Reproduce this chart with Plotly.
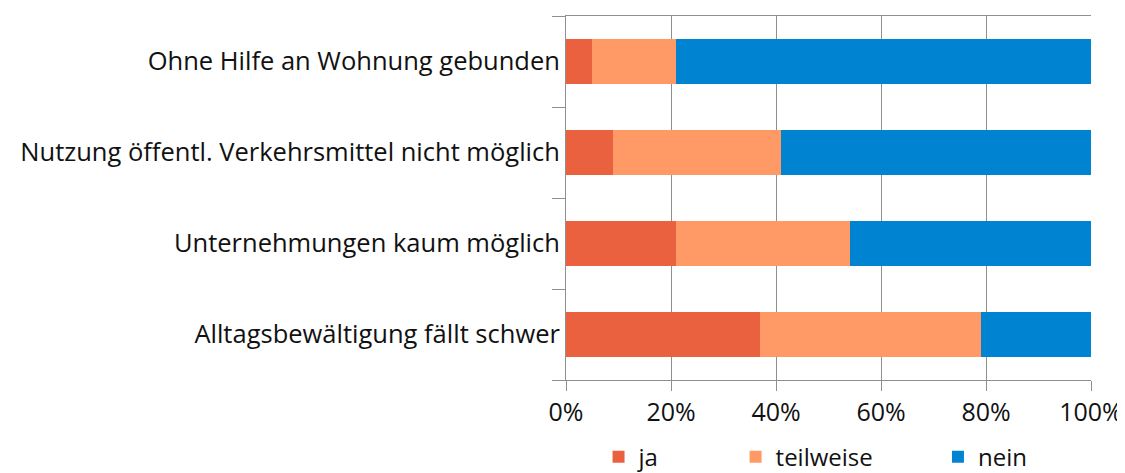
import plotly.graph_objects as go

# categories, bottom to top
categories = ["Alltagsbewältigung fällt schwer",
              "Unternehmungen kaum möglich",
              "Nutzung öffentl. Verkehrsmittel nicht möglich",
              "Ohne Hilfe an Wohnung gebunden"]
ja = [37, 21, 9, 5]
teilweise = [42, 33, 32, 16]
nein = [21, 46, 59, 79]

series = [("ja", ja, "#EA613F", "legend"),
          ("teilweise", teilweise, "#FF9A66", "legend2"),
          ("nein", nein, "#0084D1", "legend3")]

fig = go.Figure()
for name, vals, col, leg in series:
    fig.add_trace(go.Bar(y=categories, x=vals, name=name, orientation="h",
                         marker=dict(color=col, line=dict(width=0)),
                         legend=leg, showlegend=True))

grid = "#8f8f8f"
leg_font = dict(size=24, color="#111111")
# page body has an 8px margin, so the figure is a bit smaller than the window
fig.update_layout(
    width=1117, height=465,
    margin=dict(l=558, r=34, t=8, b=93, autoexpand=False),
    barmode="stack", barnorm="percent", bargap=0.5,
    plot_bgcolor="white", paper_bgcolor="white",
    showlegend=True,
    font=dict(family="Open Sans", size=25.5, color="#111111"),
    legend=dict(orientation="h", x=0.062, y=-0.212, xanchor="left", yanchor="middle", font=leg_font),
    legend2=dict(orientation="h", x=0.323, y=-0.212, xanchor="left", yanchor="middle", font=leg_font),
    legend3=dict(orientation="h", x=0.7085, y=-0.212, xanchor="left", yanchor="middle", font=leg_font),
)
fig.update_xaxes(range=[0, 100], dtick=20, ticksuffix="%", showgrid=True, gridcolor=grid,
                 gridwidth=1, zeroline=False, showline=True, linecolor=grid, mirror=True,
                 ticks="outside", ticklen=10, tickcolor=grid, automargin=False,
                 tickfont=dict(size=25))
fig.update_yaxes(type="category", tickson="boundaries", ticks="outside", ticklen=13,
                 tickcolor=grid, showgrid=False, showline=True, linecolor=grid, automargin=False)

fig.write_html("out.html")
